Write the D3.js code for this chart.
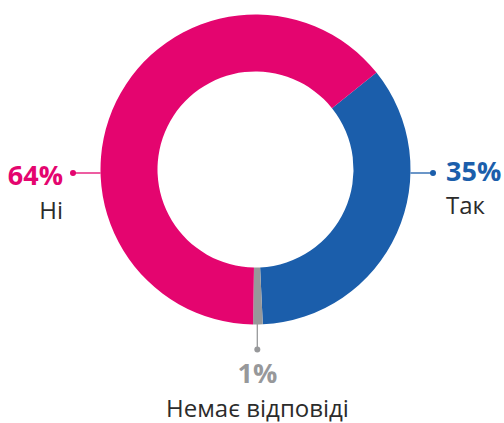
<!DOCTYPE html>
<html>
<head>
<meta charset="utf-8">
<script src="https://cdn.jsdelivr.net/npm/d3@7"></script>
<style>
  body { margin: 0; background: #fff; }
  svg { display: block; font-family: "Open Sans", "Noto Sans", sans-serif; }
</style>
</head>
<body>
<div id="chart"></div>
<script>
// ======================================
// Data
// ======================================
var labels = ["Так", "Немає відповіді", "Ні"];
var values = [35, 1, 64];
var colors = ["#1B5EAB", "#97989A", "#E4056F"];

var svgWidth = 504;
var svgHeight = 423;

var cx = 255.5, cy = 169.5;
var outerR = 155, innerR = 98;

var svg = d3.select("#chart")
  .append("svg")
  .attr("width", svgWidth)
  .attr("height", svgHeight);

var chartGroup = svg.append("g")
  .attr("transform", `translate(${cx}, ${cy})`);

// pie starts at upper right, clockwise
var startA = 51.3 * Math.PI / 180;
var pie = d3.pie()
  .sort(null)
  .value(d => d)
  .startAngle(startA)
  .endAngle(startA + 2 * Math.PI);

var arc = d3.arc()
  .innerRadius(innerR)
  .outerRadius(outerR);

var arcs = pie(values);

chartGroup.selectAll("path.slice")
  .data(arcs)
  .enter()
  .append("path")
  .attr("class", "slice")
  .attr("d", arc)
  .attr("fill", (d, i) => colors[i])
  .attr("stroke", "none");

// ======================================
// Labels with leader lines
// ======================================
// side of each label: right, bottom, left
var sides = ["right", "bottom", "left"];

sides.forEach(function(side, i) {
  var pct = values[i] + "%";
  var g = svg.append("g");
  var x1, y1, x2, y2, tx, ty, anchor;

  if (side == "right") {
    y1 = y2 = 173;
    x1 = cx + Math.sqrt(outerR * outerR - (y1 - cy) * (y1 - cy));
    x2 = 433;
    tx = 446; ty = 180.5; anchor = "start";
  } else if (side == "left") {
    y1 = y2 = 173;
    x1 = cx - Math.sqrt(outerR * outerR - (y1 - cy) * (y1 - cy));
    x2 = 73;
    tx = 63; ty = 185; anchor = "end";
  } else {
    x1 = x2 = 257.3;
    y1 = cy + outerR - 1;
    y2 = 349.5;
    tx = 257.5; ty = 383; anchor = "middle";
  }

  g.append("line")
    .attr("x1", x1).attr("y1", y1)
    .attr("x2", x2).attr("y2", y2)
    .attr("stroke", colors[i])
    .attr("stroke-width", 1.3);

  g.append("circle")
    .attr("cx", x2).attr("cy", y2)
    .attr("r", 3)
    .attr("fill", colors[i]);

  g.append("text")
    .attr("x", tx).attr("y", ty)
    .attr("text-anchor", anchor)
    .attr("font-weight", "bold")
    .attr("font-size", 27)
    .attr("fill", colors[i])
    .text(pct);

  g.append("text")
    .attr("x", tx).attr("y", side == "bottom" ? 416.5 : ty + 33.5)
    .attr("text-anchor", anchor)
    .attr("font-size", 24)
    .attr("fill", "#2b2b2b")
    .text(labels[i]);
});
</script>
</body>
</html>
